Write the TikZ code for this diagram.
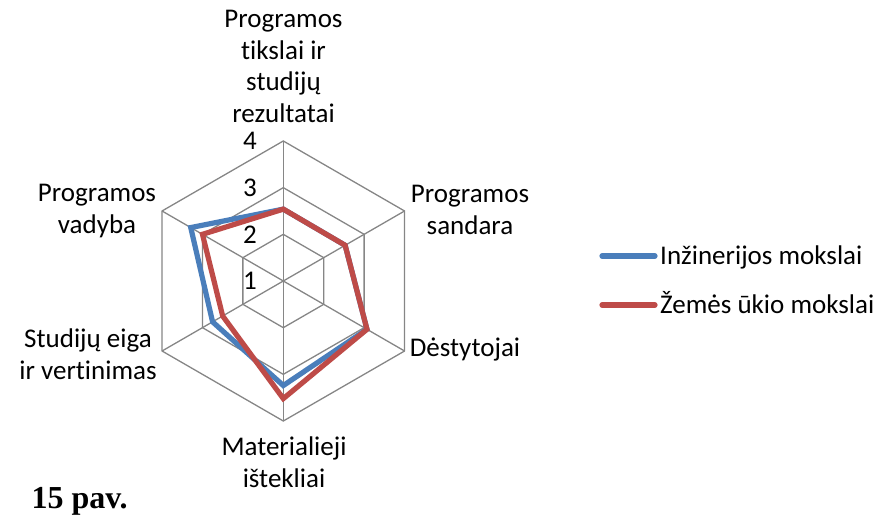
\documentclass[tikz,border=0pt]{standalone}
\usepackage{fontspec}
\setmainfont{Carlito}[Ligatures=NoCommon]
\newfontfamily\capfont{Liberation Serif}
\definecolor{gridgray}{HTML}{868686}
\definecolor{inzblue}{HTML}{4A7EBB}
\definecolor{zemred}{HTML}{BE4B48}

\begin{document}
\begin{tikzpicture}[x=1pt,y=-1pt,
	every node/.style={inner sep=0pt,font=\fontsize{27}{31.5}\selectfont},
	gridline/.style={draw=gridgray,line width=1.3pt},
	inzline/.style={draw=inzblue,line width=5.2pt},
	zemline/.style={draw=zemred,line width=5.2pt}]
			\useasboundingbox (0,0) rectangle (884,518);

			\begin{scope}[shift={(283.3,281)},x=46.67pt,y=46.67pt]
				\foreach \r in {1,2,3}
					\draw[gridline] (90:\r) -- (30:\r) -- (-30:\r) -- (-90:\r) -- (-150:\r) -- (150:\r) -- cycle;
				\foreach \a in {90,30,-30,-90,-150,150}
					\draw[gridline] (0,0) -- (\a:3);

				\foreach \a/\v [count=\i] in {90/1.54,30/1.53,-30/2.07,-90/2.24,-150/1.75,150/2.29}
					\coordinate (inz\i) at (\a:\v);
				\foreach \a/\v [count=\i] in {90/1.54,30/1.53,-30/2.07,-90/2.52,-150/1.5,150/2.0}
					\coordinate (zem\i) at (\a:\v);

				\draw[inzline] (inz1) -- (inz2) -- (inz3) -- (inz4) -- (inz5) -- (inz6) -- cycle;
				\draw[zemline] (zem1) -- (zem2) -- (zem3) -- (zem4) -- (zem5) -- (zem6) -- cycle;
			\end{scope}

			\foreach \v [count=\i from 0] in {1,2,3,4}
				\node[anchor=base east] (tick\v) at (257,{290-\i*46.67}) {\v};

			\node[align=center,anchor=north] (tikslai) at (283.5,10) {Programos\\tikslai ir\\studijų\\rezultatai};
			\node[align=center,anchor=north] (sandara) at (470,185) {Programos\\sandara};
			\node[anchor=base] (destytojai) at (465,357) {Dėstytojai};
			\node[align=center,anchor=north] (materialieji) at (284,437) {Materialieji\\ištekliai};
			\node[align=center,anchor=north] (eiga) at (88,329) {Studijų eiga\\ir vertinimas};
			\node[align=center,anchor=north] (vadyba) at (97,184) {Programos\\vadyba};

			\coordinate (inzA) at (602,256);
			\coordinate (inzB) at (655,256);
			\coordinate (zemA) at (602,305);
			\coordinate (zemB) at (655,305);
			\draw[inzline,line cap=round] (inzA) -- (inzB);
			\draw[zemline,line cap=round] (zemA) -- (zemB);
			\node[anchor=base west] (inz) at (660,265) {Inžinerijos mokslai};
			\node[anchor=base west] (zem) at (660,313.5) {Žemės ūkio mokslai};

			\node[anchor=base west,font=\capfont\bfseries\fontsize{32}{36}\selectfont] (pav) at (31.5,508) {15 pav.};
		\end{tikzpicture}
\end{document}
